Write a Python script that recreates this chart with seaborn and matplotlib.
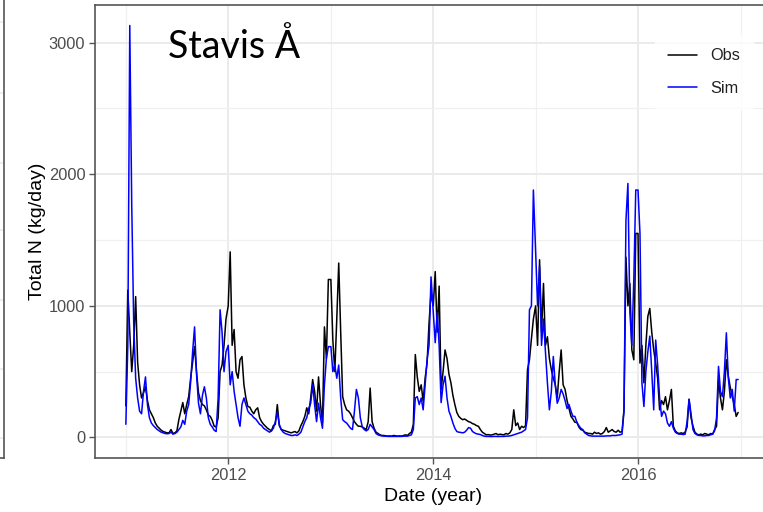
import pandas as pd
import numpy as np
import seaborn as sns
import matplotlib
matplotlib.use("Agg")
from matplotlib import pyplot as plt
import matplotlib.dates as mdates

# weekly values (kg/day), one list per year
years = [2011, 2012, 2013, 2014, 2015, 2016]

obs_2011 = [240, 1120, 800, 500, 700, 1070, 570, 400, 300, 340, 385, 280, 210, 180, 150, 110,
            85, 70, 55, 45, 40, 35, 35, 60, 30, 35, 50, 135, 200, 265, 180, 250,
            310, 450, 570, 690, 500, 340, 280, 250, 240, 210, 170, 160, 130, 85, 80, 150,
            500, 550, 700, 900]
sim_2011 = [100, 700, 3130, 1765, 870, 450, 300, 200, 180, 350, 460, 250, 150, 110, 90, 75,
            60, 50, 40, 35, 30, 28, 30, 40, 25, 30, 40, 60, 80, 130, 100, 200,
            250, 420, 650, 840, 480, 260, 180, 320, 385, 300, 150, 100, 80, 55, 45, 300,
            970, 800, 500, 650]

obs_2012 = [1000, 1410, 700, 820, 500, 450, 590, 615, 400, 300, 235, 230, 200, 180, 210, 225,
            150, 120, 100, 85, 70, 60, 50, 90, 100, 250, 90, 60, 55, 50, 45, 40,
            35, 40, 45, 35, 50, 90, 120, 160, 225, 180, 300, 440, 350, 200, 460, 250,
            110, 840, 600, 1200]
sim_2012 = [700, 400, 500, 350, 250, 150, 85, 250, 300, 250, 200, 180, 170, 150, 140, 120,
            100, 90, 70, 60, 50, 40, 50, 70, 120, 190, 100, 60, 40, 30, 25, 20,
            15, 15, 20, 15, 25, 40, 80, 120, 150, 220, 260, 400, 250, 120, 260, 150,
            70, 400, 600, 690]

obs_2013 = [1200, 740, 500, 900, 1325, 800, 310, 250, 210, 200, 180, 150, 120, 100, 85, 85,
            80, 70, 60, 120, 375, 120, 70, 40, 30, 20, 15, 15, 12, 10, 12, 10,
            15, 12, 10, 12, 10, 15, 20, 15, 30, 40, 100, 630, 460, 350, 400, 275,
            450, 565, 870, 1100]
sim_2013 = [690, 500, 550, 450, 550, 300, 135, 120, 110, 90, 70, 60, 200, 365, 300, 150,
            80, 60, 50, 60, 100, 80, 60, 30, 20, 15, 12, 10, 10, 8, 8, 8,
            8, 8, 8, 8, 8, 10, 10, 10, 15, 20, 60, 300, 310, 250, 300, 210,
            400, 590, 700, 1220]

obs_2014 = [1000, 1260, 800, 1150, 365, 500, 665, 600, 480, 415, 320, 250, 190, 160, 145, 135,
            140, 130, 120, 115, 105, 100, 90, 85, 60, 40, 30, 20, 22, 18, 20, 25,
            30, 20, 25, 22, 20, 30, 25, 35, 60, 210, 90, 110, 60, 85, 75, 90,
            515, 590, 750, 900]
sim_2014 = [950, 720, 950, 700, 265, 400, 465, 300, 200, 160, 110, 70, 45, 40, 38, 35,
            40, 55, 75, 70, 45, 35, 28, 25, 22, 15, 10, 8, 8, 7, 7, 8,
            8, 7, 8, 8, 8, 10, 10, 12, 15, 20, 25, 30, 35, 40, 50, 60,
            150, 970, 1000, 1880]

obs_2015 = [1000, 700, 1350, 800, 1170, 700, 765, 600, 515, 450, 400, 300, 500, 665, 400, 365,
            280, 220, 160, 140, 115, 115, 80, 60, 55, 40, 35, 30, 30, 25, 40, 30,
            35, 25, 30, 45, 75, 40, 50, 60, 45, 40, 55, 40, 45, 210, 1370, 1000,
            1170, 665, 590, 1550]
sim_2015 = [1400, 1000, 1300, 700, 900, 650, 415, 210, 350, 615, 400, 260, 300, 365, 330, 280,
            220, 250, 200, 160, 160, 115, 90, 70, 60, 35, 25, 15, 12, 10, 10, 10,
            10, 10, 10, 10, 12, 12, 12, 15, 15, 15, 18, 20, 25, 200, 1650, 1930,
            950, 700, 1200, 1880]

obs_2016 = [1550, 565, 700, 415, 700, 920, 980, 800, 665, 565, 450, 210, 280, 250, 310, 210,
            280, 365, 85, 50, 35, 30, 35, 30, 40, 80, 290, 150, 85, 40, 25, 20,
            25, 20, 30, 25, 20, 30, 25, 60, 85, 440, 300, 210, 350, 590, 465, 380,
            310, 250, 160, 190]
sim_2016 = [1880, 1550, 415, 235, 500, 650, 770, 500, 210, 740, 550, 300, 160, 200, 180, 110,
            85, 120, 70, 40, 30, 25, 25, 22, 25, 120, 290, 180, 60, 30, 20, 15,
            15, 12, 12, 15, 15, 20, 25, 50, 150, 540, 350, 310, 500, 795, 450, 300,
            365, 200, 440, 440]

obs_by_year = [obs_2011, obs_2012, obs_2013, obs_2014, obs_2015, obs_2016]
sim_by_year = [sim_2011, sim_2012, sim_2013, sim_2014, sim_2015, sim_2016]

y_ticks = [0, 1000, 2000, 3000]
y_minor = [500, 1500, 2500]
x_ticks = ["2012-01-01", "2014-01-01", "2016-01-01"]
x_minor = ["2011-01-01", "2013-01-01", "2015-01-01", "2017-01-01"]


def buildFrame():
    rows = []
    for yr, obs, sim in zip(years, obs_by_year, sim_by_year):
        dates = pd.date_range(f"{yr}-01-01", periods=len(obs), freq="7D")
        rows.append(pd.DataFrame({"date": dates, "value": obs, "series": "Obs"}))
        dates = pd.date_range(f"{yr}-01-01", periods=len(sim), freq="7D")
        rows.append(pd.DataFrame({"date": dates, "value": sim, "series": "Sim"}))
    return pd.concat(rows, ignore_index=True)


df = buildFrame()

sns.set_theme(style="white")
plt.rcParams["font.family"] = ["Liberation Sans", "DejaVu Sans"]

fig = plt.figure(figsize=(7.63, 5.12), dpi=100)

# piece of the neighbouring panel, cut off at the left edge
nb = fig.add_axes([-0.3, 0.1055, 0.3052, 0.95])
nb.set_xlim(0, 1)
nb.set_ylim(0, 480)
nb.set_yticks([20, 88, 156, 225, 291, 360, 430])
nb.set_xticks([])
nb.tick_params(left=False, labelleft=False)
nb.grid(axis="y", color="#EBEBEB", linewidth=1.2)
for s in nb.spines.values():
    s.set_color("#555555")
    s.set_linewidth(1.2)

ax = fig.add_axes([0.1245, 0.1055, 0.8863, 0.8848])
sns.lineplot(data=df, x="date", y="value", hue="series",
             palette={"Obs": "black", "Sim": "blue"}, linewidth=1.1, ax=ax)

ax.set_xlim(pd.Timestamp("2010-09-13"), pd.Timestamp("2017-04-20"))
ax.set_ylim(-156, 3286)
ax.set_yticks(y_ticks)
ax.set_yticks(y_minor, minor=True)
ax.set_xticks(pd.to_datetime(x_ticks))
ax.set_xticks(pd.to_datetime(x_minor), minor=True)
ax.xaxis.set_major_formatter(mdates.DateFormatter("%Y"))

ax.grid(which="major", color="#EBEBEB", linewidth=1.4)
ax.grid(which="minor", color="#F0F0F0", linewidth=0.9)
ax.set_axisbelow(True)
for s in ax.spines.values():
    s.set_color("#555555")
    s.set_linewidth(1.2)
ax.tick_params(axis="both", which="major", length=4, width=1, color="#555555",
               labelsize=11.8, labelcolor="#4D4D4D", pad=3, bottom=True, left=True)
ax.tick_params(axis="both", which="minor", length=0)

ax.set_xlabel("Date (year)", fontsize=14, color="black", labelpad=4)
ax.set_ylabel("Total N (kg/day)", fontsize=14, color="black", labelpad=2)

ax.text(0.108, 0.883, "Stavis Å", transform=ax.transAxes, fontsize=27,
        family=["Lato", "DejaVu Sans"], ha="left", va="baseline", color="black")

leg = ax.legend(title=None, loc="upper right", bbox_to_anchor=(0.985, 0.951),
                frameon=True, fontsize=11.8, handlelength=1.75, handletextpad=0.8,
                labelspacing=1.05, borderpad=0.8)
leg.get_frame().set_facecolor("white")
leg.get_frame().set_edgecolor("white")
for t in leg.get_texts():
    t.set_color("#222222")

fig.savefig("out.png", dpi=100)
